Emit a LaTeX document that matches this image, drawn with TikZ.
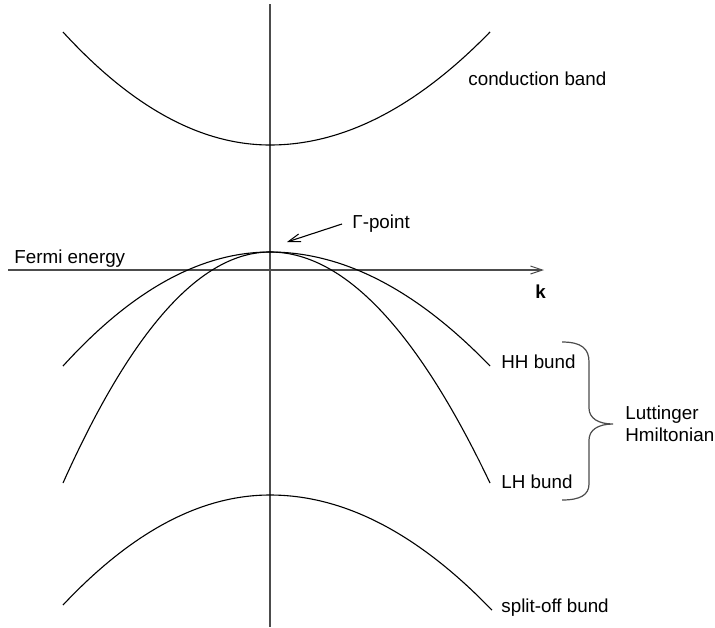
\documentclass[tikz,border=0pt]{standalone}
\usepackage{fontspec}
\setmainfont{Liberation Sans}
\usetikzlibrary{arrows.meta}
\begin{document}
\begin{tikzpicture}[x=0.5pt,y=-0.5pt,
  band/.style={line width=0.55pt, black},
  axis/.style={line width=0.65pt, black!70},
  lbl/.style={font=\fontsize{9.4}{11}\selectfont, inner sep=0pt, anchor=base west},
  tip/.style={-{Straight Barb[length=6pt,width=4pt,line width=0.5pt]}}]
\useasboundingbox (0,0) rectangle (715,627);
% axes
\coordinate (vtop) at (270,4);
\coordinate (vbot) at (270,627);
\coordinate (hl) at (8,270);
\coordinate (hr) at (544,270);
\draw[axis] (vtop) -- (vbot);
\draw[axis, tip] (hl) -- (hr);
% conduction band
\draw[band] plot[domain=63:270, samples=60, smooth] (\x, {145 - 26.37*((\x-270)/100)^2});
\draw[band] plot[domain=270:490, samples=60, smooth] (\x, {145 - 23.35*((\x-270)/100)^2});
% HH band
\draw[band] plot[domain=63:270, samples=60, smooth] (\x, {252 + 26.61*((\x-270)/100)^2});
\draw[band] plot[domain=270:490, samples=60, smooth] (\x, {252 + 23.55*((\x-270)/100)^2});
% LH band
\draw[band] plot[domain=63:270, samples=60, smooth] (\x, {252 + 53.91*((\x-270)/100)^2});
\draw[band] plot[domain=270:490, samples=60, smooth] (\x, {252 + 47.73*((\x-270)/100)^2});
% split-off band
\draw[band] plot[domain=63:270, samples=60, smooth] (\x, {495 + 25.67*((\x-270)/100)^2});
\draw[band] plot[domain=270:492, samples=60, smooth] (\x, {495 + 23.37*((\x-270)/100)^2});
% labels
\node[lbl] (cb) at (468,85) {conduction band};
\node[lbl] (fe) at (14,263) {Fermi energy};
\node[lbl] (gp) at (352,228) {Γ-point};
\node[lbl] (k) at (535,298) {\bfseries k};
\node[lbl] (hh) at (501,368) {HH bund};
\node[lbl] (lh) at (501,488) {LH bund};
\node[lbl] (so) at (501,612) {split-off bund};
\node[lbl, anchor=west, align=left] (lut) at (625,424) {Luttinger\\Hmiltonian};
% Gamma arrow
\coordinate (gs) at (342,224);
\coordinate (ge) at (287,242);
\draw[band, tip] (gs) -- (ge);
% brace
\draw[axis, line width=0.6pt] (562,342) .. controls (582,342) and (589,349) .. (589,362)
  -- (589,408) .. controls (589,418) and (598,424) .. (613,424)
  .. controls (598,424) and (589,430) .. (589,440)
  -- (589,484) .. controls (589,495) and (580,500) .. (562,500);
\end{tikzpicture}
\end{document}
